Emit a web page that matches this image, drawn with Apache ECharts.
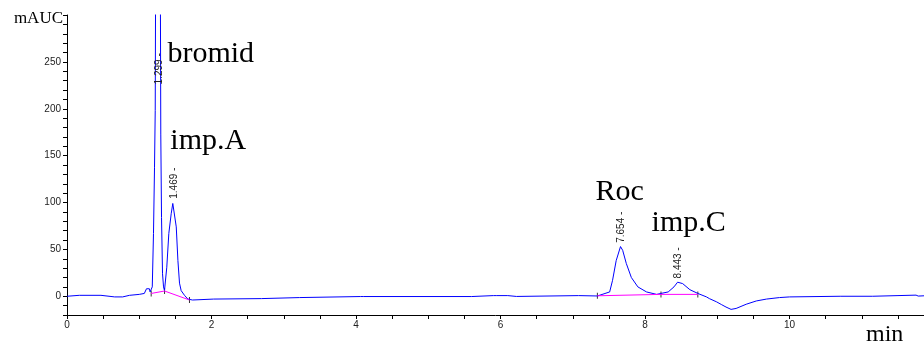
<!DOCTYPE html>
<html>
<head>
<meta charset="utf-8">
<script src="https://cdn.jsdelivr.net/npm/echarts@6/dist/echarts.min.js"></script>
<style>
html, body { margin: 0; padding: 0; background: #fff; }
#main { width: 924px; height: 347px; }
</style>
</head>
<body>
<div id="main"></div>
<script>
// retention time (min) and detector signal (mAUC)
var timeMin = [0, 0.17, 0.47, 0.49, 0.66, 0.77, 0.865, 1.0, 1.07, 1.10, 1.14, 1.15,
    1.18, 1.197, 1.211, 1.221, 1.26, 1.298, 1.308, 1.322, 1.336, 1.349,
    1.381, 1.409, 1.442, 1.464, 1.488, 1.512, 1.535, 1.557, 1.58, 1.626, 1.672, 1.737,
    2.03, 2.05, 2.69, 2.71, 3.22, 3.24, 4.06, 4.08, 4.10, 5.60, 5.62, 5.90, 5.92, 5.94,
    6.10, 6.12, 6.22, 6.24, 7.08, 7.10, 7.34,
    7.51, 7.55, 7.60, 7.66, 7.69, 7.74, 7.81, 7.90, 8.02, 8.16, 8.22,
    8.32, 8.40, 8.45, 8.52, 8.62, 8.73, 8.85,
    8.89, 8.99, 9.06, 9.12, 9.19, 9.26, 9.40, 9.54, 9.68, 9.86, 10.0, 10.7,
    11.15, 11.17, 11.50, 11.52, 11.75, 11.78, 11.86];
var signal = [0, 1, 1, 0, -0.7, -0.7, 1, 2, 3, 8, 8, 4.6,
    10, 67, 137, 198, 1200, 173, 84, 24, 10, 6,
    31, 67, 88, 99, 97, 74, 38, 14, 6, 1, -3, -4,
    -3, -2.5, -2.5, -1.4, -1.4, -0.3, -0.3, -1.2, -0.3, -0.3, 0.7, 0.7, -0.2, 0.7,
    0.7, -0.2, -0.2, 0.7, 0.7, -0.3, 0.3,
    4.6, 17, 38, 53, 49, 35, 20, 10, 4.6, 2, 3,
    4.6, 10, 15, 13.5, 7, 3, -0.7,
    -2.5, -6, -9, -11.5, -14, -13, -8.5, -5, -3, -1.4, -0.7, 0,
    0, 0.7, 0.7, 1.2, 1.2, 0.2, 0.5];

// integration baselines (magenta)
var base1Time = [1.165, 1.35, 1.695];
var base1Value = [3, 5.6, -4];
var base2Time = [7.34, 8.22, 8.73];
var base2Value = [0.5, 2, 2];

// peaks: retention time text and compound name
var peakRT = ['1.299', '1.469', '7.654', '8.443'];
var peakTime = [1.27, 1.487, 7.67, 8.455];
var peakTop = [226, 104, 57, 19];
var compound = ['bromid', 'imp.A', 'Roc', 'imp.C'];
var compoundTime = [1.39, 1.43, 7.315, 8.09];
var compoundValue = [258, 165, 111, 78];

var yTicks = [0, 50, 100, 150, 200, 250];
var xTicks = [0, 2, 4, 6, 8, 10];

function pairs(xs, ys) {
    var out = [];
    for (var i = 0; i < xs.length; i++) out.push([xs[i], ys[i]]);
    return out;
}

var myChart = echarts.init(document.getElementById('main'));

var rtMarks = [];
for (var i = 0; i < peakRT.length; i++) {
    rtMarks.push({ name: peakRT[i] + ' -', coord: [peakTime[i], peakTop[i]] });
}
var nameMarks = [];
for (var j = 0; j < compound.length; j++) {
    nameMarks.push({ name: compound[j], coord: [compoundTime[j], compoundValue[j]] });
}
var cutMarks = pairs(base1Time, base1Value).concat(pairs(base2Time, base2Value));

var option = {
    animation: false,
    backgroundColor: '#fff',
    grid: { left: 67, right: 0, top: 15, bottom: 32, outerBoundsMode: 'none' },
    xAxis: {
        type: 'value',
        min: 0,
        max: 11.86,
        interval: 0.5,
        axisLine: { onZero: false, lineStyle: { color: '#000', width: 1 } },
        axisTick: { length: 4, lineStyle: { color: '#000' } },
        axisLabel: {
            margin: 5,
            color: '#222',
            fontFamily: 'Liberation Sans',
            fontSize: 10,
            formatter: function (v) { return xTicks.indexOf(v) >= 0 ? String(v) : ''; }
        },
        splitLine: { show: false }
    },
    yAxis: {
        type: 'value',
        min: -20,
        max: 300,
        interval: 10,
        axisLine: { show: true, lineStyle: { color: '#000', width: 1 } },
        axisTick: { show: true, length: 4, lineStyle: { color: '#000' } },
        axisLabel: {
            margin: 6,
            color: '#222',
            fontFamily: 'Liberation Sans',
            fontSize: 10,
            formatter: function (v) { return yTicks.indexOf(v) >= 0 ? String(v) : ''; }
        },
        splitLine: { show: false }
    },
    graphic: [
        { type: 'text', x: 63, y: 19, style: { text: 'mAUC', font: '17px "Liberation Serif"', fill: '#000', align: 'right', verticalAlign: 'middle' } },
        { type: 'text', x: 866, y: 335, style: { text: 'min', font: '24px "Liberation Serif"', fill: '#000', align: 'left', verticalAlign: 'middle' } }
    ],
    series: [
        {
            name: 'signal',
            type: 'line',
            data: pairs(timeMin, signal),
            symbol: 'none',
            lineStyle: { color: '#0000ff', width: 1 },
            markPoint: {
                silent: true,
                symbol: 'circle',
                symbolSize: 0,
                label: {
                    show: true,
                    position: 'inside',
                    rotate: 90,
                    align: 'left',
                    verticalAlign: 'middle',
                    formatter: '{b}',
                    color: '#222',
                    fontFamily: 'Liberation Sans',
                    fontSize: 10
                },
                data: rtMarks
            }
        },
        {
            name: 'names',
            type: 'line',
            data: [],
            symbol: 'none',
            markPoint: {
                silent: true,
                symbol: 'circle',
                symbolSize: 0,
                label: {
                    show: true,
                    position: 'inside',
                    align: 'left',
                    verticalAlign: 'middle',
                    formatter: '{b}',
                    color: '#000',
                    fontFamily: 'Liberation Serif',
                    fontSize: 30
                },
                data: nameMarks
            }
        },
        {
            name: 'baseline1',
            type: 'line',
            data: pairs(base1Time, base1Value),
            symbol: 'none',
            lineStyle: { color: '#ff00ff', width: 1 }
        },
        {
            name: 'baseline2',
            type: 'line',
            data: pairs(base2Time, base2Value),
            symbol: 'none',
            lineStyle: { color: '#ff00ff', width: 1 }
        },
        {
            name: 'cuts',
            type: 'scatter',
            data: cutMarks,
            symbol: 'rect',
            symbolSize: [1, 6],
            itemStyle: { color: '#000' },
            silent: true
        }
    ]
};
myChart.setOption(option);
</script>
</body>
</html>
